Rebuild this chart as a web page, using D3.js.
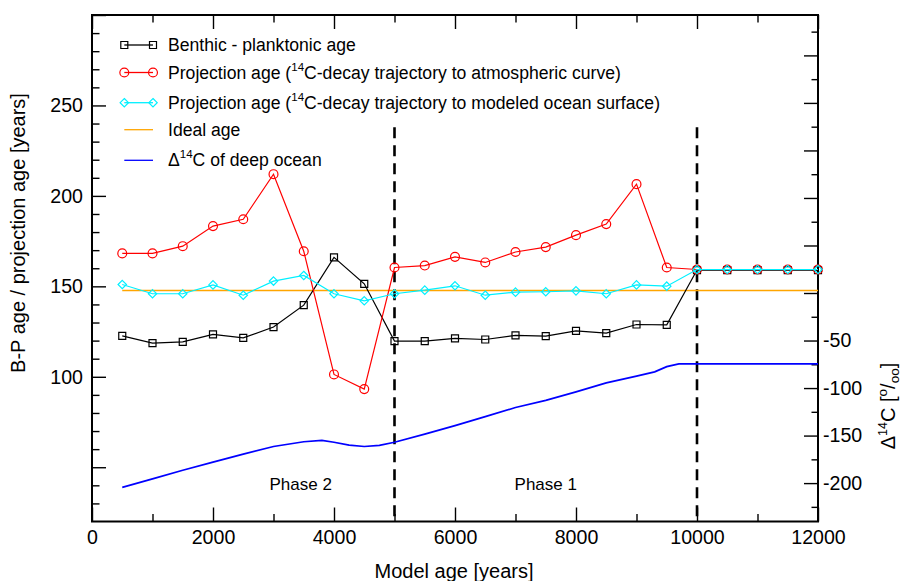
<!DOCTYPE html>
<html>
<head>
<meta charset="utf-8">
<script src="https://cdn.jsdelivr.net/npm/d3@7"></script>
<style>
  body { margin: 0; background: #fff; }
  text { font-family: "Liberation Sans", Arial, Helvetica, sans-serif; fill: #000; }
</style>
</head>
<body>
<script>
// model ages of the sample points
var ages = [500, 1000, 1500, 2000, 2500, 3000, 3500, 4000, 4500, 5000, 5500, 6000,
            6500, 7000, 7500, 8000, 8500, 9000, 9500, 10000, 10500, 11000, 11500, 12000];

// benthic - planktonic age
var bpAge = [122.6, 118.6, 119.3, 123.4, 121.5, 127.5, 139.6, 166, 151.4, 119.7, 119.7, 121.2,
             120.6, 122.9, 122.5, 125.4, 124.1, 128.9, 128.7, 159, 159, 159, 159, 159];

// projection age, to atmospheric curve
var projAtm = [168.2, 168.2, 172.2, 183.3, 187.1, 212, 169.4, 101.3, 93.2, 160.4, 161.5, 166.3,
               163.2, 169, 171.7, 178.3, 184.4, 206.5, 160.4, 159.3, 159.3, 159.3, 159.3, 159.3];

// projection age, to modeled ocean surface
var projOcean = [151, 145.9, 145.9, 150.8, 145.1, 152.9, 156, 145.9, 142, 145.9, 147.9, 150.3,
                 145.1, 146.8, 147, 147.5, 145.9, 150.8, 150.1, 159.3, 159.3, 159.3, 159.3, 159.3];

// ideal age
var idealAges = [500, 12000];
var idealAge = [147.7, 147.7];

// delta 14C of deep ocean (right axis)
var d14cAges = [500, 1000, 1500, 2000, 2500, 3000, 3500, 3800, 4000, 4250, 4500, 4750, 5000, 5500,
                6000, 6500, 7000, 7500, 8000, 8500, 9000, 9300, 9500, 9700, 10000, 12000];
var d14c = [-204.5, -195.5, -186.5, -178, -169.5, -161.5, -156.5, -155, -157, -160, -161.5, -160.3, -157, -148.5,
            -139.5, -130, -120.5, -113, -104, -94.5, -87.5, -83, -77.5, -74.5, -74.5, -74.5];

var xTicks = [0, 2000, 4000, 6000, 8000, 10000, 12000];
var leftTicks = [50, 100, 150, 200, 250, 300];
var leftLabels = [100, 150, 200, 250];
var rightLabels = [-50, -100, -150, -200];
var phaseLines = [5000, 10000];

var width = 906, height = 581;
var plotL = 92, plotR = 818, plotT = 15, plotB = 521.5;

var svg = d3.select("body").append("svg")
    .attr("width", width)
    .attr("height", height);

var x = d3.scaleLinear().domain([0, 12000]).range([plotL, plotR]);
var yL = d3.scaleLinear().domain([20, 300]).range([plotB, plotT]);
var yR = d3.scaleLinear().domain([-240.4, 292.5]).range([plotB, plotT]);

// ---- axes ----
function styleAxis(g) {
    g.select(".domain").remove();
    g.selectAll(".tick line").attr("stroke", "#000").attr("stroke-width", 1.4);
    g.selectAll("text").style("font-size", "19.6px").attr("fill", "#000");
}

// bottom
svg.append("g").attr("transform", "translate(0," + plotB + ")")
    .call(d3.axisBottom(x).tickValues(d3.range(1000, 12000, 2000)).tickSize(-7.5).tickFormat(""))
    .call(styleAxis);
svg.append("g").attr("transform", "translate(0," + plotB + ")")
    .call(d3.axisBottom(x).tickValues(xTicks).tickSize(-14).tickPadding(9).tickFormat(d3.format("d")))
    .call(styleAxis);
// top
svg.append("g").attr("transform", "translate(0," + plotT + ")")
    .call(d3.axisTop(x).tickValues(d3.range(1000, 12000, 2000)).tickSize(-7.5).tickFormat(""))
    .call(styleAxis);
svg.append("g").attr("transform", "translate(0," + plotT + ")")
    .call(d3.axisTop(x).tickValues(xTicks).tickSize(-14).tickFormat(""))
    .call(styleAxis);

// left
svg.append("g").attr("transform", "translate(" + plotL + ",0)")
    .call(d3.axisLeft(yL).tickValues(d3.range(30, 300, 10).filter(d => d % 50 != 0)).tickSize(-7.5).tickFormat(""))
    .call(styleAxis);
svg.append("g").attr("transform", "translate(" + plotL + ",0)")
    .call(d3.axisLeft(yL).tickValues(leftTicks).tickSize(-14).tickPadding(9)
        .tickFormat(d => leftLabels.indexOf(d) >= 0 ? d : ""))
    .call(styleAxis);

// right
svg.append("g").attr("transform", "translate(" + plotR + ",0)")
    .call(d3.axisRight(yR).tickValues(d3.range(-225, 292, 50)).tickSize(-6.5).tickFormat(""))
    .call(styleAxis);
svg.append("g").attr("transform", "translate(" + plotR + ",0)")
    .call(d3.axisRight(yR).tickValues(d3.range(-200, 292, 50)).tickSize(-14).tickPadding(5)
        .tickFormat(d => rightLabels.indexOf(d) >= 0 ? d : ""))
    .call(styleAxis);

// frame
svg.append("rect")
    .attr("x", plotL).attr("y", plotT)
    .attr("width", plotR - plotL).attr("height", plotB - plotT)
    .attr("fill", "none").attr("stroke", "#000").attr("stroke-width", 2);

// ---- axis titles ----
svg.append("text")
    .attr("x", 454).attr("y", 578)
    .attr("text-anchor", "middle")
    .style("font-size", "20px")
    .text("Model age [years]");

svg.append("text")
    .attr("transform", "translate(25,233) rotate(-90)")
    .attr("text-anchor", "middle")
    .style("font-size", "20px")
    .text("B-P age / projection age [years]");

var rt = svg.append("text")
    .attr("transform", "translate(895,406) rotate(-90)")
    .attr("text-anchor", "middle")
    .style("font-size", "20px");
rt.append("tspan").text("\u0394");
rt.append("tspan").attr("dy", -8).style("font-size", "12.5px").text("14");
rt.append("tspan").attr("dy", 8).text("C [");
rt.append("tspan").attr("dy", -8).style("font-size", "13.5px").text("o");
rt.append("tspan").attr("dy", 8).text("/");
rt.append("tspan").attr("dy", 4).style("font-size", "13.5px").text("oo");
rt.append("tspan").attr("dy", -4).text("]");

// ---- phase separators ----
svg.selectAll(".phase")
    .data(phaseLines)
    .enter()
    .append("line")
    .attr("x1", d => x(d)).attr("x2", d => x(d))
    .attr("y1", yL(238)).attr("y2", plotB)
    .attr("stroke", "#000")
    .attr("stroke-width", 2.6)
    .attr("stroke-dasharray", "11,7");

svg.append("text").attr("x", x(3450)).attr("y", 490)
    .attr("text-anchor", "middle").style("font-size", "17px").text("Phase 2");
svg.append("text").attr("x", x(7500)).attr("y", 490)
    .attr("text-anchor", "middle").style("font-size", "17px").text("Phase 1");

// ---- series ----
var lineL = d3.line().x(d => x(d[0])).y(d => yL(d[1]));
var lineR = d3.line().x(d => x(d[0])).y(d => yR(d[1]));

svg.append("path")
    .datum(d3.zip(idealAges, idealAge))
    .attr("d", lineL)
    .attr("fill", "none").attr("stroke", "#ffa500").attr("stroke-width", 1.5);

svg.append("path")
    .datum(d3.zip(d14cAges, d14c))
    .attr("d", lineR)
    .attr("fill", "none").attr("stroke", "#0000ff").attr("stroke-width", 1.7);

function drawMarkers(g, pts, shape, color) {
    g.selectAll(null)
        .data(pts)
        .enter()
        .append("path")
        .attr("transform", d => "translate(" + x(d[0]) + "," + yL(d[1]) + ")")
        .attr("d", shape)
        .attr("fill", "none")
        .attr("stroke", color)
        .attr("stroke-width", 1.2);
}

var squareShape = "M-3.5,-3.5H3.5V3.5H-3.5Z";
var circleShape = d3.symbol(d3.symbolCircle, 62)();
var diamondShape = "M0,-4.2L4.2,0L0,4.2L-4.2,0Z";

var series = [
    { vals: bpAge, color: "#000000", shape: squareShape },
    { vals: projAtm, color: "#ff0000", shape: circleShape },
    { vals: projOcean, color: "#00f0ff", shape: diamondShape }
];

series.forEach(s => {
    var pts = d3.zip(ages, s.vals);
    var g = svg.append("g");
    g.append("path")
        .datum(pts)
        .attr("d", lineL)
        .attr("fill", "none").attr("stroke", s.color).attr("stroke-width", 1.2);
    drawMarkers(g, pts, s.shape, s.color);
});

// ---- legend ----
var legendRows = [
    { y: 45, color: "#000000", shape: squareShape, pre: "Benthic - planktonic age", sup: null, post: null },
    { y: 72.5, color: "#ff0000", shape: circleShape, pre: "Projection age (", sup: "14", post: "C-decay trajectory to atmospheric curve)" },
    { y: 102.7, color: "#00f0ff", shape: diamondShape, pre: "Projection age (", sup: "14", post: "C-decay trajectory to modeled ocean surface)" },
    { y: 129.7, color: "#ffa500", shape: null, pre: "Ideal age", sup: null, post: null },
    { y: 160.3, color: "#0000ff", shape: null, pre: "\u0394", sup: "14", post: "C of deep ocean" }
];

legendRows.forEach(r => {
    var g = svg.append("g");
    g.append("line")
        .attr("x1", 124.3).attr("x2", 153)
        .attr("y1", r.y).attr("y2", r.y)
        .attr("stroke", r.color).attr("stroke-width", 1.3);
    if (r.shape) {
        [124.3, 153].forEach(px => {
            g.append("path")
                .attr("transform", "translate(" + px + "," + r.y + ")")
                .attr("d", r.shape)
                .attr("fill", "none")
                .attr("stroke", r.color)
                .attr("stroke-width", 1.2);
        });
    }
    var t = g.append("text")
        .attr("x", 168).attr("y", r.y + 6)
        .style("font-size", "17.6px");
    t.append("tspan").text(r.pre);
    if (r.sup) {
        t.append("tspan").attr("dy", -8).style("font-size", "11.5px").text(r.sup);
        t.append("tspan").attr("dy", 8).text(r.post);
    }
});
</script>
</body>
</html>
